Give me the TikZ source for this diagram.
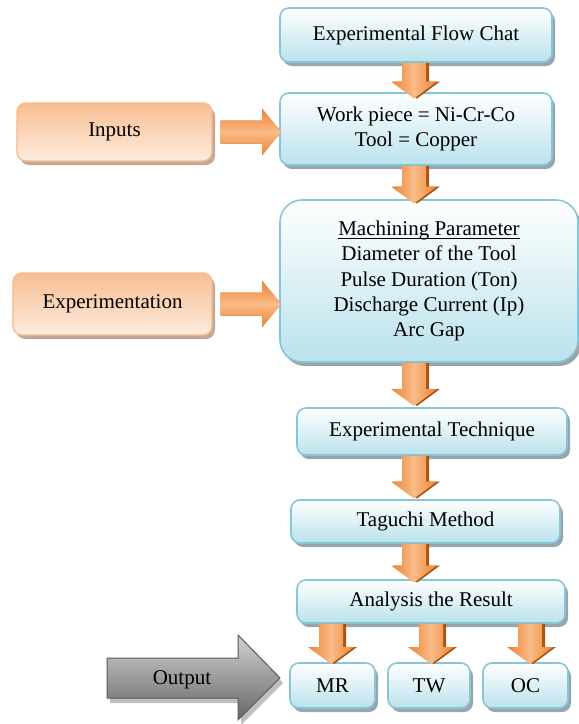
\documentclass[tikz,border=0pt]{standalone}
\usepackage{fontspec}
\setmainfont{Liberation Serif}
\usetikzlibrary{calc,shadows}

\definecolor{boxline}{RGB}{135,198,214}
\definecolor{boxbot}{RGB}{186,226,236}
\definecolor{boxshade}{RGB}{150,166,172}
\definecolor{ortop}{RGB}{248,190,146}
\definecolor{orbot}{RGB}{253,236,223}
\definecolor{orline}{RGB}{246,186,142}
\definecolor{orshade}{RGB}{196,168,150}
\definecolor{arrmain}{RGB}{238,130,50}
\definecolor{arrlight}{RGB}{250,188,136}
\definecolor{arrdark}{RGB}{168,84,18}

\def\ulin#1{\setbox0\hbox{#1}\rlap{\rule[-3pt]{\wd0}{0.9pt}}\box0}

\tikzset{
  blubox/.style={draw=boxline, line width=1.6pt, rounded corners=9pt,
    top color=white, bottom color=boxbot, align=center, inner sep=0pt,
    drop shadow={shadow xshift=3pt, shadow yshift=-4pt, fill=boxshade, opacity=1}},
  orbox/.style={draw=orline, line width=1.4pt, rounded corners=9pt,
    top color=ortop, bottom color=orbot, align=center, inner sep=0pt,
    drop shadow={shadow xshift=3pt, shadow yshift=-4pt, fill=orshade, opacity=1}},
  arrbody/.style={left color=arrmain, right color=arrmain, middle color=arrlight},
  arrside/.style={top color=arrmain, bottom color=arrmain, middle color=arrlight},
}

% block arrow down: x, from, to
\def\arrdown#1#2#3{%
  \fill[arrdark, shift={(3pt,-3pt)}] let \p1=(#2.south), \p2=(#3.north) in
    ({#1pt-12pt},\y1) -- ({#1pt+12pt},\y1) -- ({#1pt+12pt},{0.5*\y1+0.5*\y2-4pt})
    -- ({#1pt+23pt},{0.5*\y1+0.5*\y2-4pt}) -- (#1pt,{0.5*\y1+0.5*\y2-21pt})
    -- ({#1pt-23pt},{0.5*\y1+0.5*\y2-4pt}) -- ({#1pt-12pt},{0.5*\y1+0.5*\y2-4pt}) -- cycle;
  \path[arrbody] let \p1=(#2.south), \p2=(#3.north) in
    ({#1pt-12pt},\y1) -- ({#1pt+12pt},\y1) -- ({#1pt+12pt},{0.5*\y1+0.5*\y2-4pt})
    -- ({#1pt+23pt},{0.5*\y1+0.5*\y2-4pt}) -- (#1pt,{0.5*\y1+0.5*\y2-21pt})
    -- ({#1pt-23pt},{0.5*\y1+0.5*\y2-4pt}) -- ({#1pt-12pt},{0.5*\y1+0.5*\y2-4pt}) -- cycle;
}
% block arrow right: from, to
\def\arrright#1#2{%
  \fill[arrdark, shift={(3pt,-4pt)}] let \p1=(#1.east), \p2=(#2.west) in
    (\x1+8pt,\y1+11.5pt) -- (\x2-17pt,\y1+11.5pt) -- (\x2-17pt,\y1+23pt) -- (\x2+2pt,\y1)
    -- (\x2-17pt,\y1-23pt) -- (\x2-17pt,\y1-11.5pt) -- (\x1+8pt,\y1-11.5pt) -- cycle;
  \path[arrside] let \p1=(#1.east), \p2=(#2.west) in
    (\x1+8pt,\y1+11.5pt) -- (\x2-17pt,\y1+11.5pt) -- (\x2-17pt,\y1+23pt) -- (\x2+2pt,\y1)
    -- (\x2-17pt,\y1-23pt) -- (\x2-17pt,\y1-11.5pt) -- (\x1+8pt,\y1-11.5pt) -- cycle;
}

\begin{document}
\begin{tikzpicture}[x=1pt, y=1pt, font=\fontsize{21}{25.3}\selectfont]
  %%%%% START %%%%%
  \useasboundingbox (0,0) rectangle (579,-724);

  % main column
  \node[blubox, minimum width=272, minimum height=54] (flow) at (416,-35) {Experimental Flow Chat};
  \node[blubox, minimum width=272, minimum height=72] (work) at (416,-129)
    {Work piece = Ni-Cr-Co\\Tool = Copper};
  \node[blubox, rounded corners=22pt, minimum width=298, minimum height=162] (param) at (429,-281)
    {\ulin{Machining Parameter}\\Diameter of the Tool\\Pulse Duration (Ton)\\Discharge Current (Ip)\\Arc Gap};
  \node[blubox, minimum width=270, minimum height=47] (tech) at (432,-431.5) {Experimental Technique};
  \node[blubox, minimum width=269, minimum height=43] (taguchi) at (425.5,-521.5) {Taguchi Method};
  \node[blubox, minimum width=268, minimum height=43] (result) at (431,-601.5) {Analysis the Result};
  \node[blubox, minimum width=85, minimum height=45] (mr) at (332.5,-685.5) {MR};
  \node[blubox, minimum width=82, minimum height=45] (tw) at (429,-685.5) {TW};
  \node[blubox, minimum width=85, minimum height=45] (oc) at (525.5,-685.5) {OC};

  % left side
  \node[orbox, minimum width=195, minimum height=58] (inputs) at (114.5,-132) {Inputs};
  \node[orbox, minimum width=199, minimum height=62] (expt) at (112.5,-304) {Experimentation};

  \arrdown{414}{flow}{work}
  \arrdown{414}{work}{param}
  \arrdown{414}{param}{tech}
  \arrdown{414}{tech}{taguchi}
  \arrdown{414}{taguchi}{result}
  \arrdown{331}{result}{mr}
  \arrdown{431}{result}{tw}
  \arrdown{530}{result}{oc}

  \arrright{inputs}{work}
  \arrright{expt}{param}

  % output arrow
  \fill[black!25, shift={(3pt,-5pt)}] (107,-658) -- (238,-658) -- (238,-635) -- (280,-678)
    -- (238,-720) -- (238,-698) -- (107,-698) -- cycle;
  \draw[draw=black!65, line width=1pt, top color=black!18, bottom color=black!60]
    (107,-658) -- (238,-658) -- (238,-635) -- (280,-678) -- (238,-720) -- (238,-698) -- (107,-698) -- cycle;
  \node (output) at (182,-680) {Output};

  %%%%% END %%%%%
\end{tikzpicture}
\end{document}
